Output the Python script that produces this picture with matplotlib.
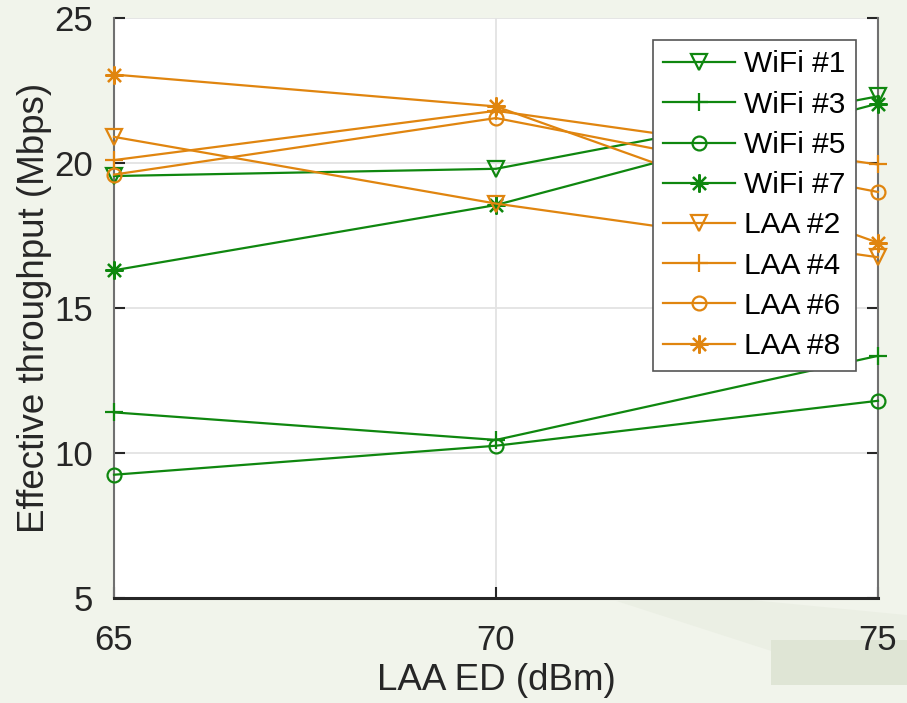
import matplotlib
matplotlib.use("Agg")
import matplotlib.pyplot as plt
from matplotlib.patches import Polygon, Rectangle

plt.rcParams['font.family'] = ['Liberation Sans', 'DejaVu Sans']

# LAA energy-detection threshold (dBm)
laa_ed = [65, 70, 75]

wifi_1 = [19.55, 19.8, 22.3]
wifi_3 = [11.4, 10.45, 13.35]
wifi_5 = [9.25, 10.25, 11.8]
wifi_7 = [16.3, 18.55, 22.05]
laa_2 = [20.9, 18.6, 16.75]
laa_4 = [20.1, 21.8, 19.95]
laa_6 = [19.6, 21.55, 19.0]
laa_8 = [23.05, 21.95, 17.25]

series_labels = ["WiFi #1", "WiFi #3", "WiFi #5", "WiFi #7",
                 "LAA #2", "LAA #4", "LAA #6", "LAA #8"]
series_values = [wifi_1, wifi_3, wifi_5, wifi_7, laa_2, laa_4, laa_6, laa_8]

x_ticks = [65, 70, 75]
y_ticks = [5, 10, 15, 20, 25]

green = "#0f870f"
orange = "#e0850f"
asterisk = (8, 2, 0)
styles = [
    (green, "v", 11), (green, "+", 13), (green, "o", 10), (green, asterisk, 13),
    (orange, "v", 11), (orange, "+", 13), (orange, "o", 10), (orange, asterisk, 13),
]

fig = plt.figure(figsize=(9.07, 7.03), dpi=100, facecolor="#f1f4eb")

# soft decorative shapes in the lower-right background
fig.patches.append(Polygon([[0.68, 0.145], [0.80, 0.15], [1.0, 0.125], [1.0, 0.09], [0.86, 0.07]],
                           closed=True, transform=fig.transFigure,
                           facecolor="#ebefe4", edgecolor="none", zorder=-5))
fig.patches.append(Rectangle((0.85, 0.025), 0.15, 0.065, transform=fig.transFigure,
                             facecolor="#dfe5d5", edgecolor="none", zorder=-5))

ax = fig.add_axes([0.1257, 0.1494, 0.8423, 0.825])
ax.set_facecolor("white")

for label, vals, (col, mk, ms) in zip(series_labels, series_values, styles):
    ax.plot(laa_ed, vals, color=col, marker=mk, markersize=ms,
            markerfacecolor="none", markeredgecolor=col, markeredgewidth=1.6,
            linewidth=1.6, label=label, clip_on=False, zorder=3)

ax.set_xlim(65, 75)
ax.set_ylim(5, 25)
ax.set_xticks(x_ticks)
ax.set_yticks(y_ticks)
ax.grid(True, color="#e3e3e3", linewidth=1.3)
ax.set_axisbelow(True)

ax.spines["top"].set_visible(False)
ax.spines["left"].set_color("#707070")
ax.spines["right"].set_color("#707070")
ax.spines["left"].set_linewidth(1.5)
ax.spines["right"].set_linewidth(1.5)
ax.spines["bottom"].set_color("#262626")
ax.spines["bottom"].set_linewidth(2.2)

ax.tick_params(axis="both", direction="in", length=8, width=1.5, colors="#262626",
               labelsize=25, labelcolor="#262626")
ax.tick_params(axis="y", right=True, pad=15)
ax.tick_params(axis="x", pad=19)

ax.set_xlabel("LAA ED (dBm)", fontsize=26.5, color="#262626", labelpad=4)
ax.set_ylabel("Effective throughput (Mbps)", fontsize=26.5, color="#262626", labelpad=2)

leg = ax.legend(loc="upper right", bbox_to_anchor=(0.971, 0.962), fontsize=21.5,
                frameon=True, fancybox=False, framealpha=1.0, handlelength=2.4,
                handletextpad=0.3, labelspacing=0.41, borderpad=0.35, borderaxespad=0.0)
leg.get_frame().set_edgecolor("#555555")
leg.get_frame().set_linewidth(1.2)
leg.set_zorder(5)

fig.savefig("out.png", dpi=100, facecolor=fig.get_facecolor())
